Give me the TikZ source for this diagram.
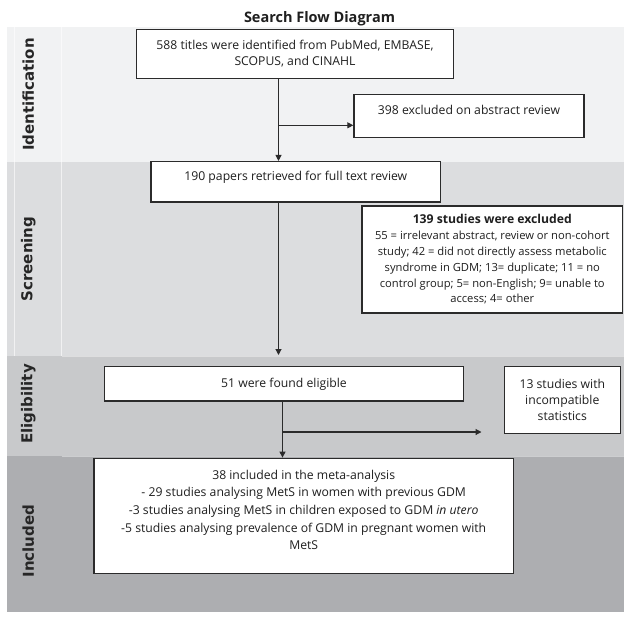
\documentclass[tikz,border=0pt]{standalone}
\usepackage{fontspec}
\setmainfont{Open Sans}
\newfontfamily\balkenschrift{DejaVu Sans}
\usetikzlibrary{arrows.meta}
\definecolor{grau1}{HTML}{F1F2F3}
\definecolor{grau2}{HTML}{DCDDDF}
\definecolor{grau3}{HTML}{C8C9CB}
\definecolor{grau4}{HTML}{ADAEB1}
\definecolor{rand}{HTML}{2B2B2B}
\begin{document}
\begin{tikzpicture}[x=1pt,y=-1pt]
\tikzset{kasten/.style={draw=rand,line width=1.4pt,fill=white,align=center,inner sep=0pt,text=black!88,font=\fontsize{12.2}{16.5}\selectfont}}
\tikzset{pfeil/.style={draw=rand,line width=1.1pt,-{Triangle[length=6pt,width=6pt]}}}
\tikzset{balken/.style={rotate=90,text=black!85,font=\balkenschrift\bfseries\fontsize{15}{18}\selectfont}}
\useasboundingbox (0,0) rectangle (624,618);
% Baender
\fill[grau1] (7.3,26.7) rectangle (624,162);
\fill[grau2] (7.3,162) rectangle (624,356);
\fill[grau3] (7.3,356) rectangle (624,456);
\fill[grau4] (7.3,456) rectangle (624,611.7);
\draw[white,opacity=0.6,line width=0.6pt] (14.7,26.7) to (14.7,356);
\draw[white,opacity=0.6,line width=0.6pt] (61.7,26.7) to (61.7,356);
\draw[white,opacity=0.4,line width=0.6pt] (61.7,356) to (624,356);
\draw[white,opacity=0.4,line width=0.6pt] (61.7,456) to (624,456);
\node[font=\bfseries\fontsize{14.5}{17}\selectfont,text=black!88] (titel) at (319.5,18.3) {Search Flow Diagram};
\node[balken] (identifikation) at (28.3,94.5) {Identification};
\node[balken] (screening) at (28.3,259) {Screening};
\node[balken] (eignung) at (28.3,404) {Eligibility};
\node[balken] (einschluss) at (28.3,541) {Included};
% Kaesten
\node[kasten,minimum width=317pt,minimum height=49pt] (quelle) at (295,53.8) {588 titles were identified from PubMed, EMBASE,\\SCOPUS, and CINAHL};
\node[kasten,minimum width=230pt,minimum height=43pt,text depth=11.6pt] (abstrakt) at (469,115.8) {398 excluded on abstract review};
\node[kasten,minimum width=289.5pt,minimum height=40.3pt,text depth=12.9pt] (volltext) at (295.8,181.8) {190 papers retrieved for full text review};
\node[kasten,minimum width=260.7pt,minimum height=107pt,font=\fontsize{11.2}{15.8}\selectfont] (ausschluss) at (492.3,259.5) {{\fontsize{12.2}{15.8}\selectfont\bfseries 139 studies were excluded}\\55 = irrelevant abstract, review or non-cohort\\study; 42 = did not directly assess metabolic\\syndrome in GDM; 13= duplicate; 11 = no\\control group; 5= non-English; 9= unable to\\access; 4= other};
\node[kasten,minimum width=359.3pt,minimum height=34.3pt] (geeignet) at (284,383.8) {51 were found eligible};
\node[kasten,line width=0.8pt,minimum width=115.4pt,minimum height=67.3pt,font=\fontsize{12.2}{15.8}\selectfont] (statistik) at (562.3,399.7) {13 studies with\\incompatible\\statistics};
\node[kasten,minimum width=419.3pt,minimum height=115pt,text depth=12pt,font=\fontsize{12.2}{17.7}\selectfont] (eingeschlossen) at (303.7,515.8) {38 included in the meta-analysis\\- 29 studies analysing MetS in women with previous GDM\\-3 studies analysing MetS in children exposed to GDM \textit{in utero}\\-5 studies analysing prevalence of GDM in pregnant women with\\MetS};
% Pfeile
\coordinate (k1) at (278.5,125.3);
\coordinate (e1) at (278.5,355);
\coordinate (k2) at (282.5,432);
\coordinate (e2) at (481.5,432);
\draw[pfeil] (quelle.south -| k1) to (volltext.north -| k1);
\draw[pfeil] (k1) to (abstrakt.west |- k1);
\draw[pfeil] (volltext.south -| e1) to (e1);
\draw[pfeil] (geeignet.south -| k2) to (eingeschlossen.north -| k2);
\draw[pfeil] (k2) to (e2);
\end{tikzpicture}
\end{document}
